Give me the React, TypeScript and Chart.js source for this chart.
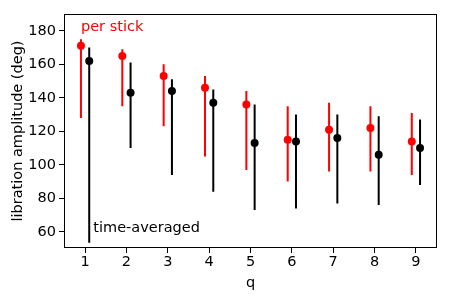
import React, { useEffect, useRef } from "react";
import { Chart, registerables } from "chart.js";

Chart.register(...registerables);

const qValues = [1, 2, 3, 4, 5, 6, 7, 8, 9];
const perStick = [171, 165, 153, 146, 136, 115, 121, 122, 114];
const perStickLow = [128, 135, 123, 105, 97, 90, 96, 96, 94];
const perStickHigh = [175, 169, 160, 153, 144, 135, 137, 135, 131];
const timeAvg = [162, 143, 144, 137, 113, 114, 116, 106, 110];
const timeAvgLow = [53.5, 110, 94, 84, 73, 74, 77, 76, 88];
const timeAvgHigh = [170, 161, 151, 145, 136, 130, 130, 129, 127];
const yTicks = [60, 80, 100, 120, 140, 160, 180];

const OFFSET = 0.1;
const FONT = "DejaVu Sans";
const FS = 14.5;

function errData(low: number[], high: number[], dx: number) {
  const out: any[] = [];
  qValues.forEach((q, i) => {
    out.push({ x: q + dx, y: low[i] });
    out.push({ x: q + dx, y: high[i] });
    out.push({ x: q + dx, y: null });
  });
  return out;
}

const annotPlugin = {
  id: "annot",
  afterDatasetsDraw(chart: any) {
    const { ctx, chartArea, scales } = chart;
    const xs = scales.x;
    const ys = scales.y;
    ctx.save();
    ctx.font = `${FS}px "${FONT}"`;
    ctx.textBaseline = "alphabetic";
    ctx.textAlign = "left";
    ctx.fillStyle = "#ff0000";
    ctx.fillText("per stick", xs.getPixelForValue(0.9), ys.getPixelForValue(180));
    ctx.fillStyle = "#000000";
    ctx.fillText("time-averaged", xs.getPixelForValue(1.2), ys.getPixelForValue(60));
    ctx.strokeStyle = "#000000";
    ctx.lineWidth = 1;
    ctx.strokeRect(
      Math.round(chartArea.left) + 0.5,
      Math.round(chartArea.top) + 0.5,
      Math.round(chartArea.right - chartArea.left) - 1,
      Math.round(chartArea.bottom - chartArea.top) - 1
    );
    ctx.restore();
  },
};

export default function App() {
  const ref = useRef<HTMLCanvasElement | null>(null);
  useEffect(() => {
    document.body.style.margin = "0";
    Chart.defaults.font.family = FONT;
    const chart = new Chart(ref.current!, {
      type: "scatter",
      data: {
        datasets: [
          {
            data: errData(perStickLow, perStickHigh, -OFFSET),
            showLine: true,
            spanGaps: false,
            borderColor: "#ff0000",
            borderWidth: 2,
            pointRadius: 0,
          } as any,
          {
            data: errData(timeAvgLow, timeAvgHigh, OFFSET),
            showLine: true,
            spanGaps: false,
            borderColor: "#000000",
            borderWidth: 2,
            pointRadius: 0,
          } as any,
          {
            data: qValues.map((q, i) => ({ x: q - OFFSET, y: perStick[i] })),
            backgroundColor: "#ff0000",
            borderWidth: 0,
            pointRadius: 4,
          },
          {
            data: qValues.map((q, i) => ({ x: q + OFFSET, y: timeAvg[i] })),
            backgroundColor: "#000000",
            borderWidth: 0,
            pointRadius: 4,
          },
        ],
      },
      options: {
        animation: false,
        responsive: false,
        layout: { padding: { top: 14, right: 13, left: 0, bottom: 0 } },
        plugins: { legend: { display: false }, tooltip: { enabled: false } },
        scales: {
          x: {
            type: "linear",
            min: 0.49,
            max: 9.51,
            afterBuildTicks: (s: any) => {
              s.ticks = qValues.map((v) => ({ value: v }));
            },
            afterFit: (s: any) => {
              s.height = 52;
            },
            border: { display: false },
            grid: {
              drawOnChartArea: false,
              drawTicks: true,
              tickLength: 5,
              tickColor: "#000",
              tickWidth: 1,
            },
            ticks: { color: "#000", font: { size: FS }, padding: 1 },
            title: {
              display: true,
              text: "q",
              color: "#000",
              font: { size: FS },
              padding: { top: 0, bottom: 8 },
            },
          },
          y: {
            type: "linear",
            min: 50.4,
            max: 190,
            afterBuildTicks: (s: any) => {
              s.ticks = yTicks.map((v) => ({ value: v }));
            },
            afterFit: (s: any) => {
              s.width = 64;
            },
            border: { display: false },
            grid: {
              drawOnChartArea: false,
              drawTicks: true,
              tickLength: 5,
              tickColor: "#000",
              tickWidth: 1,
            },
            ticks: { color: "#000", font: { size: FS }, padding: 3 },
            title: {
              display: true,
              text: "libration amplitude (deg)",
              color: "#000",
              font: { size: FS },
              padding: { top: 10, bottom: 0 },
            },
          },
        },
      },
      plugins: [annotPlugin],
    });
    return () => chart.destroy();
  }, []);
  return (
    <div style={{ position: "absolute", left: 0, top: 0, width: 450, height: 300 }}>
      <canvas ref={ref} width={450} height={300} style={{ width: 450, height: 300 }} />
    </div>
  );
}
